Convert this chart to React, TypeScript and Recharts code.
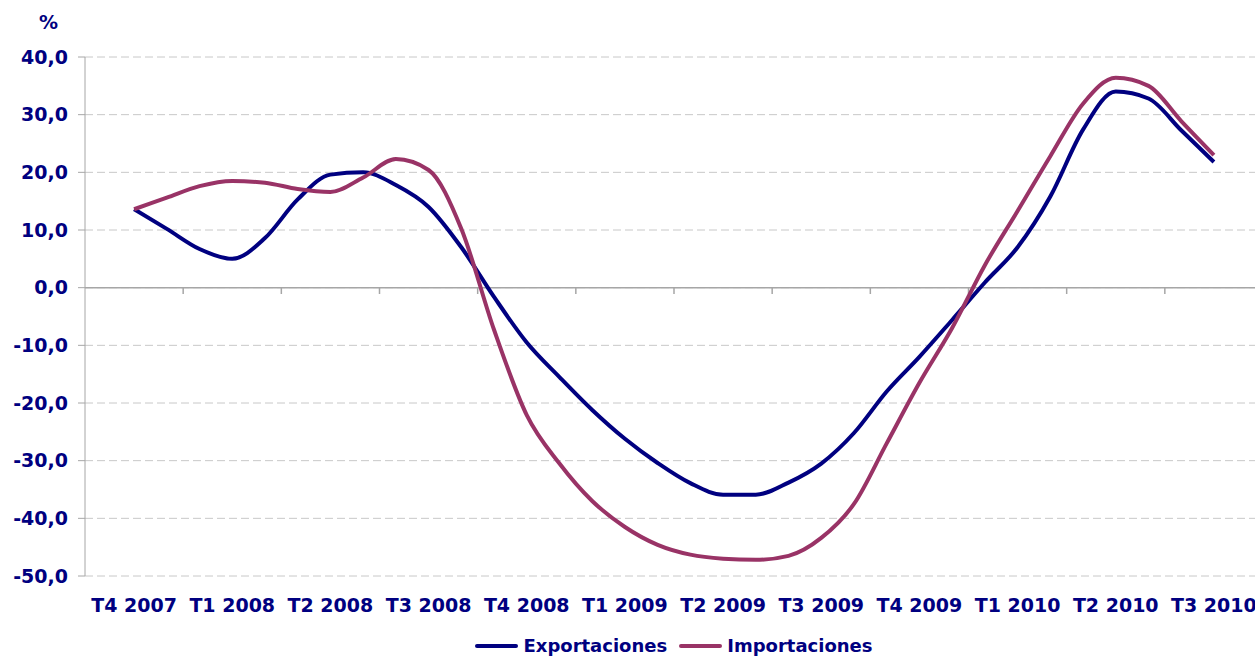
import {
  CartesianGrid,
  Line,
  LineChart,
  ReferenceLine,
  XAxis,
  YAxis,
} from "recharts";

const NAVY = "#000080";
const PLUM = "#993366";
const AXIS = "#a6a6a6";
const GRID = "#c8c8c8";
const FONT = "Verdana, 'DejaVu Sans', sans-serif";

const QUARTERS = [
  "T4 2007", "T1 2008", "T2 2008", "T3 2008", "T4 2008", "T1 2009",
  "T2 2009", "T3 2009", "T4 2009", "T1 2010", "T2 2010", "T3 2010",
];

// monthly points, Nov 2007 .. Aug 2010 (middle month of each quarter at the ends)
const MONTHS = [
  "2007-11", "2007-12",
  "2008-01", "2008-02", "2008-03", "2008-04", "2008-05", "2008-06",
  "2008-07", "2008-08", "2008-09", "2008-10", "2008-11", "2008-12",
  "2009-01", "2009-02", "2009-03", "2009-04", "2009-05", "2009-06",
  "2009-07", "2009-08", "2009-09", "2009-10", "2009-11", "2009-12",
  "2010-01", "2010-02", "2010-03", "2010-04", "2010-05", "2010-06",
  "2010-07", "2010-08",
];

const EXPORTS = [
  13.6, 10.2, 6.7, 5.0, 8.6, 15.3, 19.6, 20.0, 17.8, 14.0, 7.0, -1.6,
  -9.5, -15.5, -21.2, -26.2, -30.4, -33.9, -35.9, -35.9, -33.8, -30.5,
  -25.2, -18.0, -12.0, -5.6, 0.9, 7.0, 15.8, 27.4, 34.0, 32.8, 27.3, 21.8,
];

const IMPORTS = [
  13.6, 15.6, 17.6, 18.5, 18.2, 17.1, 16.6, 19.1, 22.3, 20.4, 10.2, -7.3,
  -22.1, -30.5, -37.0, -41.5, -44.6, -46.3, -47.0, -47.2, -46.5, -43.4,
  -37.5, -27.0, -16.5, -7.0, 3.9, 13.3, 22.8, 31.9, 36.4, 35.0, 28.9, 23.0,
];

const Y_TICKS = [-50, -40, -30, -20, -10, 0, 10, 20, 30, 40];

// each quarter spans 3 month units on the x axis
const data = MONTHS.map((m, i) => ({
  month: m,
  t: i + 1.5,
  exp: EXPORTS[i],
  imp: IMPORTS[i],
}));
const labelTicks = QUARTERS.map((_, i) => i * 3 + 1.5);
const boundaries = QUARTERS.slice(1).map((_, i) => (i + 1) * 3);

function QuarterTick({ x, y, payload }: any) {
  const q = QUARTERS[Math.round((payload.value - 1.5) / 3)];
  return (
    <text
      x={x}
      y={y}
      dy={36}
      textAnchor="middle"
      fill={NAVY}
      fontSize={19}
      fontWeight="bold"
      fontFamily={FONT}
    >
      {q}
    </text>
  );
}

const fmt = (v: number) => v.toFixed(1).replace(".", ",");

function LegendItem({ color, label, gap }: { color: string; label: string; gap: number }) {
  return (
    <div style={{ display: "flex", alignItems: "center", marginRight: gap }}>
      <div style={{ width: 43, height: 4, background: color, borderRadius: 2, marginRight: 5 }} />
      <span>{label}</span>
    </div>
  );
}

export default function App() {
  return (
    <div
      style={{
        position: "absolute",
        left: 0,
        top: 0,
        width: 1255,
        height: 657,
        overflow: "hidden",
        background: "#fff",
        fontFamily: FONT,
      }}
    >
      <LineChart
        width={1263}
        height={657}
        data={data}
        margin={{ top: 57, right: 0, bottom: 0, left: 0 }}
      >
        <CartesianGrid
          horizontal
          vertical={false}
          stroke={GRID}
          strokeDasharray="8 4"
        />
        <XAxis
          dataKey="t"
          type="number"
          domain={[0, 36]}
          ticks={labelTicks}
          interval={0}
          axisLine={false}
          tickLine={false}
          tickSize={0}
          tickMargin={0}
          height={81}
          tick={<QuarterTick />}
        />
        <YAxis
          type="number"
          domain={[-50, 40]}
          ticks={Y_TICKS}
          interval={0}
          width={85}
          stroke={AXIS}
          tickSize={7}
          tickMargin={10}
          tickFormatter={fmt}
          tick={{ fill: NAVY, fontSize: 19, fontWeight: "bold", fontFamily: FONT }}
          label={{
            value: "%",
            position: "top",
            offset: 28,
            dx: 6,
            fill: NAVY,
            fontSize: 19,
            fontWeight: "bold",
            fontFamily: FONT,
          }}
        />
        <ReferenceLine y={0} stroke={AXIS} strokeWidth={1.5} />
        {boundaries.map((b) => (
          <ReferenceLine
            key={b}
            segment={[
              { x: b, y: 0 },
              { x: b, y: -1.1 },
            ]}
            stroke={AXIS}
            strokeWidth={1.5}
          />
        ))}
        <Line
          type="monotone"
          dataKey="exp"
          name="Exportaciones"
          stroke={NAVY}
          strokeWidth={4}
          dot={false}
          isAnimationActive={false}
        />
        <Line
          type="monotone"
          dataKey="imp"
          name="Importaciones"
          stroke={PLUM}
          strokeWidth={4}
          dot={false}
          isAnimationActive={false}
        />
      </LineChart>
      <div
        style={{
          position: "absolute",
          left: 85,
          width: 1178,
          top: 634,
          display: "flex",
          justifyContent: "center",
          color: NAVY,
          fontSize: 18,
          fontWeight: "bold",
          lineHeight: "24px",
        }}
      >
        <LegendItem color={NAVY} label="Exportaciones" gap={12} />
        <LegendItem color={PLUM} label="Importaciones" gap={0} />
      </div>
    </div>
  );
}
